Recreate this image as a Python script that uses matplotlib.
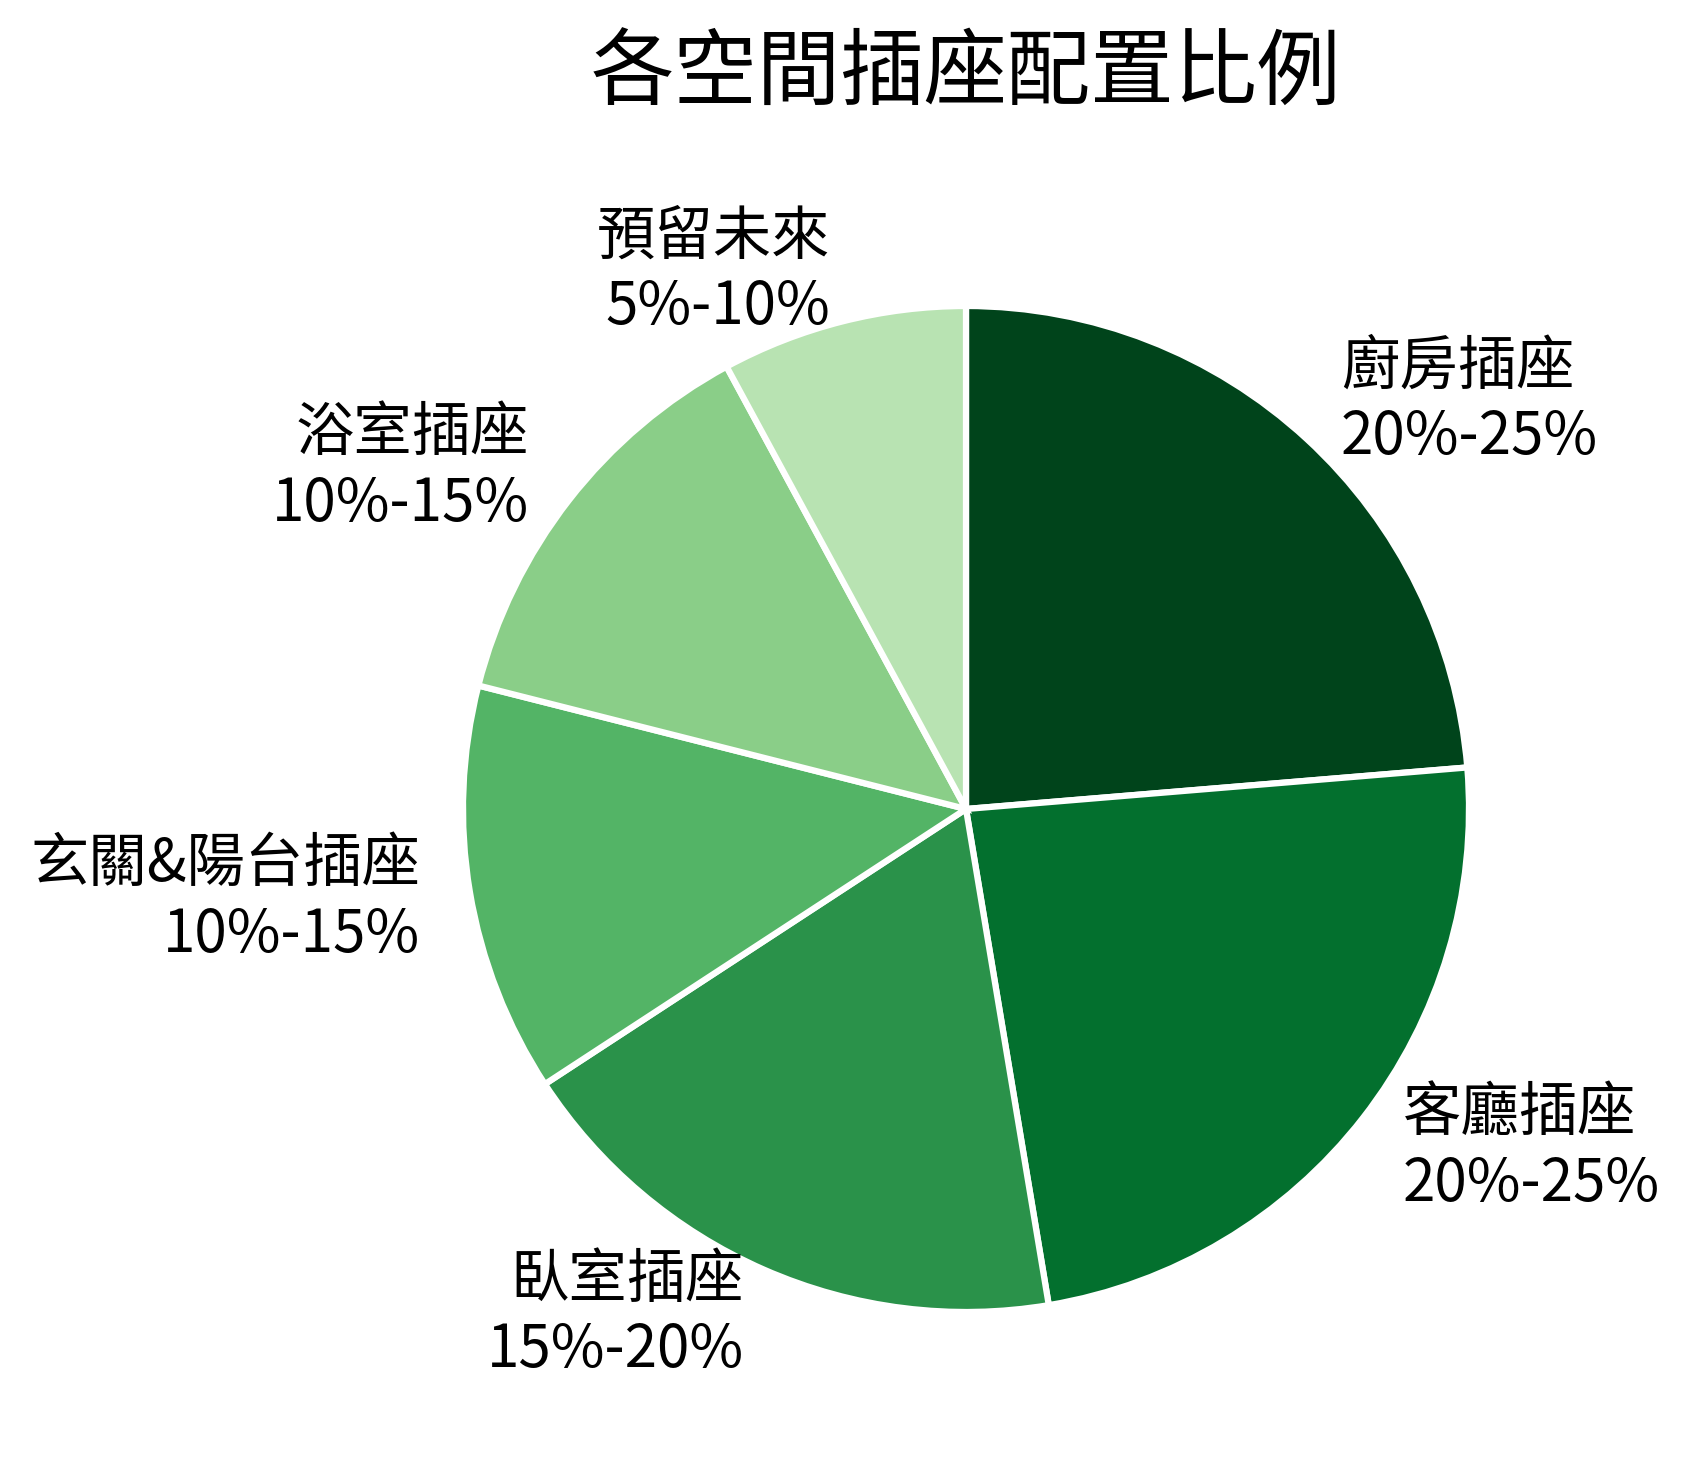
import matplotlib
matplotlib.use('Agg')
import matplotlib.pyplot as plt
import numpy as np

plt.rcParams['font.family'] = ['Noto Sans CJK TC', 'DejaVu Sans']

# 각 공간 데이터
rooms = ['廚房插座', '客廳插座', '臥室插座', '玄關&陽台插座', '浴室插座', '預留未來']
ranges = ['20%-25%', '20%-25%', '15%-20%', '10%-15%', '10%-15%', '5%-10%']
values = [22.5, 22.5, 17.5, 12.5, 12.5, 7.5]

labels = [f'{r}\n{p}' for r, p in zip(rooms, ranges)]
colors = plt.cm.Greens(np.linspace(1.0, 0.3, len(values)))

W, H = 1689, 1468
cx, cy, r = 966, 809, 503

fig = plt.figure(figsize=(W / 300, H / 300), dpi=300)
ax = fig.add_axes([(cx - r) / W, (H - cy - r) / H, 2 * r / W, 2 * r / H])

wedges, texts = ax.pie(values, labels=labels, colors=colors,
                       startangle=90, counterclock=False,
                       labeldistance=1.1,
                       wedgeprops={'edgecolor': 'white', 'linewidth': 1.5},
                       textprops={'fontsize': 14})
ax.set_xlim(-1, 1)
ax.set_ylim(-1, 1)
ax.set_aspect('equal')

fig.text(cx / W, 1 - 75 / H, '各空間插座配置比例', fontsize=20,
         ha='center', va='center')

fig.savefig('out.png', dpi=300)
